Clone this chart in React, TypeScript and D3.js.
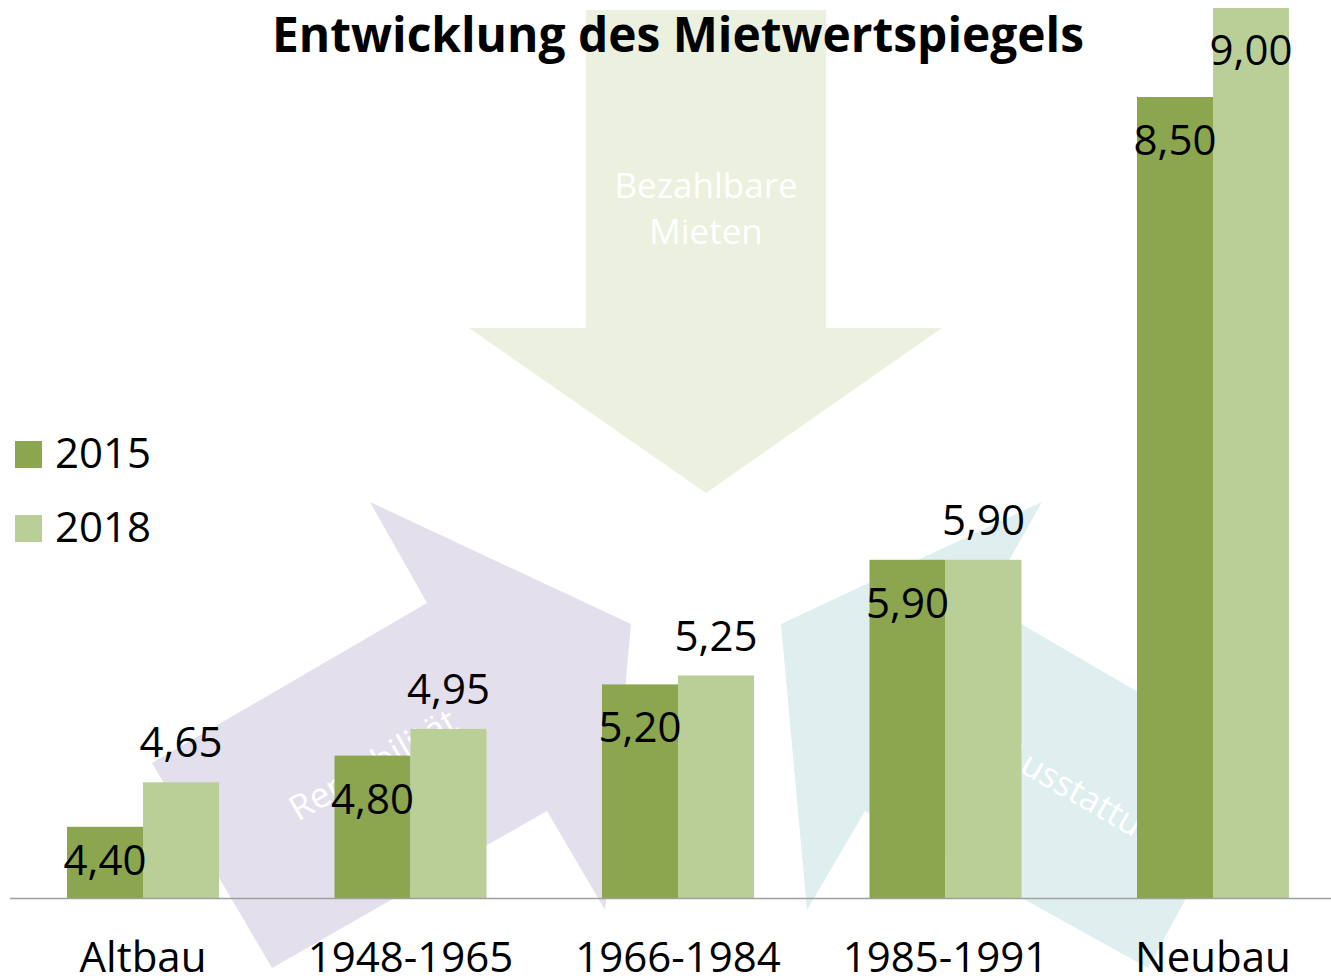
import React from "react";
import * as d3 from "d3";

const categories = ["Altbau", "1948-1965", "1966-1984", "1985-1991", "Neubau"];
const seriesNames = ["2015", "2018"];
const values2015 = [4.4, 4.8, 5.2, 5.9, 8.5];
const values2018 = [4.65, 4.95, 5.25, 5.9, 9.0];
const seriesColors = ["#8BA64E", "#BACF97"];
const title = "Entwicklung des Mietwertspiegels";

const W = 1331;
const H = 980;
const FONT = "'Open Sans', 'Noto Sans', sans-serif";

const locale = d3.formatLocale({ decimal: ",", thousands: ".", grouping: [3], currency: ["", "€"] });
const fmt = locale.format(".2f");

export default function App() {
  const base = 898;
  const y = d3.scaleLinear().domain([4, 9]).range([base, 8]);
  const x0 = d3
    .scaleBand<string>()
    .domain(categories)
    .range([9.25, 1346.75])
    .paddingInner(0.4318)
    .paddingOuter(0.2159);
  const x1 = d3.scaleBand<string>().domain(seriesNames).range([0, x0.bandwidth()]);
  const series = [values2015, values2018];

  const downArrow = [
    [586, 10], [826, 10], [826, 328], [942, 328], [706, 493], [469, 328], [586, 328],
  ];
  const purpleArrow = [
    [370, 502], [427, 603], [152, 763], [272, 968], [547, 811], [605, 910], [631, 624],
  ];
  const tealArrow = [
    [1042, 502], [985, 603], [1260, 763], [1148, 968], [865, 811], [807, 910], [781, 624],
  ];
  const line = d3.line();

  return (
    <svg
      width={W}
      height={H}
      style={{ position: "absolute", left: 0, top: 0, display: "block", background: "#fff" }}
      fontFamily={FONT}
    >
      {/* decorative background arrows */}
      <path d={line(downArrow as [number, number][]) + "Z"} fill="#EBF1DE" />
      <path d={line(purpleArrow as [number, number][]) + "Z"} fill="#E4DFEC" />
      <path d={line(tealArrow as [number, number][]) + "Z"} fill="#DFEEEE" />
      <text x={706} y={198} textAnchor="middle" fill="#fff" fontSize={35}>Bezahlbare</text>
      <text x={706} y={244} textAnchor="middle" fill="#fff" fontSize={35}>Mieten</text>
      <text x={298} y={822} fill="#fff" fontSize={35} transform="rotate(-30 298 822)">Rentabilität</text>
      <text x={999} y={760} fill="#fff" fontSize={35} transform="rotate(30 999 760)">Ausstattung</text>

      {/* bars */}
      {categories.map((c, i) => (
        <g key={c} transform={`translate(${x0(c)},0)`}>
          {seriesNames.map((s, j) => {
            const v = series[j][i];
            return (
              <rect
                key={s}
                x={x1(s)}
                y={y(v)}
                width={x1.bandwidth()}
                height={base - y(v)}
                fill={seriesColors[j]}
              />
            );
          })}
        </g>
      ))}

      {/* axis line */}
      <line x1={10} x2={W} y1={base + 0.5} y2={base + 0.5} stroke="#A0A0A0" strokeWidth={1.5} />

      {/* value labels */}
      {categories.map((c, i) => (
        <g key={c + "l"} transform={`translate(${x0(c)},0)`}>
          {seriesNames.map((s, j) => {
            const v = series[j][i];
            const top = y(v);
            let ly: number;
            if (j === 0) {
              ly = Math.min(top + 58, base - 23);
            } else {
              ly = top - 25 - 32 >= 0 ? top - 25 : top + 57;
            }
            return (
              <text
                key={s}
                x={(x1(s) as number) + x1.bandwidth() / 2}
                y={ly}
                textAnchor="middle"
                fontSize={42}
                fill="#000"
              >
                {fmt(v)}
              </text>
            );
          })}
        </g>
      ))}

      {/* category labels */}
      {categories.map((c) => (
        <text
          key={c + "c"}
          x={(x0(c) as number) + x0.bandwidth() / 2}
          y={972}
          textAnchor="middle"
          fontSize={42}
          fill="#000"
        >
          {c}
        </text>
      ))}

      {/* legend */}
      {seriesNames.map((s, j) => (
        <g key={s + "lg"}>
          <rect x={15} y={441 + j * 74} width={27} height={27} fill={seriesColors[j]} />
          <text x={55} y={468 + j * 74} fontSize={42} fill="#000">{s}</text>
        </g>
      ))}

      {/* title */}
      <text
        x={678}
        y={52}
        textAnchor="middle"
        fontSize={48}
        fontWeight="bold"
        fill="#000"
        textLength={812}
        lengthAdjust="spacingAndGlyphs"
      >
        {title}
      </text>
    </svg>
  );
}
